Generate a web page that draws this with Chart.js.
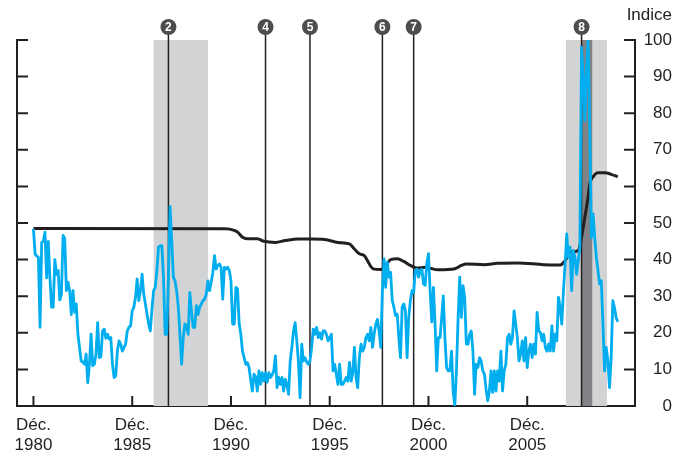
<!DOCTYPE html>
<html>
<head>
<meta charset="utf-8">
<script src="https://cdn.jsdelivr.net/npm/chart.js@4"></script>
<style>
  html, body { margin: 0; padding: 0; background: #fff; }
  #wrap { width: 689px; height: 462px; }
</style>
</head>
<body>
<div id="wrap"><canvas id="stressChart"></canvas></div>
<script>
// months counted from Dec. 1980 (0 = Déc. 1980)
const tickMonths = [0, 60, 120, 180, 240, 300];
const tickYears = ['1980', '1985', '1990', '1995', '2000', '2005'];

// blue series, one value per month from Déc. 1980
const blueIndex = [
  48.4, 41.5, 41, 40.6, 21.5, 44.7, 45, 47.5, 35, 45, 35, 27,
  27, 40, 36, 37, 29, 30.6, 46.6, 45.7, 31.5, 33.8, 31.5, 25,
  31.5, 25.6, 27.9, 19.6, 16, 12.3, 12, 11.4, 14.2, 6.4, 11.4, 19.6,
  11, 11.4, 14.2, 22.8, 13.2, 13.5, 20.5, 21, 18.5, 19.6, 18.3, 18.7,
  11.4, 7.8, 8.2, 15, 17.8, 16.9, 15, 16, 16.9, 20.5, 21.5, 21.9,
  26, 27, 29.7, 34.7, 28.8, 31.5, 36, 30.6, 27.9, 25.1, 22.4, 20.5,
  26.5, 31.5, 32.4, 37, 43.4, 43.8, 43.8, 35.2, 19.6, 19.6, 35, 54.5,
  45.2, 35.2, 34.2, 31.5, 27, 19.6, 11.4, 18.7, 22.4, 21.9, 19.6, 31,
  26, 21.5, 21.5, 27.4, 25, 27, 27.9, 28.8, 29.2, 30.6, 34.2, 31.5,
  33.8, 36.5, 41.1, 37.4, 38.4, 38.8, 37.9, 29.2, 37.9, 37.4, 37.9, 37,
  34.2, 22.4, 22.4, 32.4, 32, 22.4, 19.6, 15, 13.2, 11.4, 11.8, 10.5,
  7, 4.1, 8.7, 8, 4.1, 9.6, 5.9, 9.1, 6.8, 9.1, 6.5, 9.1,
  7.8, 8.5, 9.6, 13.7, 5, 7.8, 5.9, 7.8, 4.1, 7.3, 5.9, 3.2,
  12.3, 16, 20.5, 22.8, 17.8, 12, 2.3, 16.9, 12.3, 13.2, 12, 11.4,
  12.3, 15.9, 21, 19.6, 21.5, 18.7, 20, 18.3, 20.5, 20.5, 19.6, 17.8,
  18.7, 19.6, 9.6, 11.4, 8.7, 5.9, 11.4, 5.9, 5.9, 6.8, 7.8, 6.8,
  11.9, 6.8, 9.1, 16, 7.8, 5, 13.2, 16.9, 15, 16, 18.7, 19.6,
  17.8, 21.5, 16, 19.6, 22.4, 23.7, 20.5, 16, 31.5, 40.2, 32.4, 39.3,
  35.2, 36.5, 28.8, 27, 24.7, 25.1, 18.7, 13.2, 27, 27.9, 26, 13.2,
  24.2, 28.8, 31.5, 31, 37, 37.4, 35.2, 37, 37.4, 33.3, 33, 39,
  41.6, 31.5, 23, 32.4, 22.4, 9.6, 18.7, 18.7, 24, 30.1, 18.7, 10.5,
  9.6, 9.6, 15, 4, 0, 9.8, 24, 35.2, 24.2, 32.9, 29.7, 16.9,
  16.9, 19.6, 20.5, 15, 3.2, 11.4, 10.5, 13.2, 12.3, 9.6, 8.7, 4.6,
  1.4, 4.1, 9.6, 3.7, 9.6, 4.1, 9.6, 6.8, 15, 4.1, 9.6, 11.4,
  18.7, 19.6, 16.9, 18.7, 26, 22.4, 18.7, 12.3, 14.2, 17.8, 12.3, 18.7,
  10.5, 15, 16.9, 13.2, 16.9, 14.2, 25.6, 20.5, 20.1, 17.8, 19.6, 16,
  15, 16.9, 15, 21.9, 15, 19.6, 17.8, 29.7, 26.9, 22.4, 31.5, 38.8,
  47, 40.6, 43.4, 31.5, 42.5, 40.6, 36, 39.7, 43.4, 98, 90, 78,
  92, 100, 75, 46, 52.5, 46, 40.6, 37, 33.3, 34.2, 22.4, 9.6,
  16, 12.3, 5, 13.2, 28.8, 26.9, 24.2, 23
];

// black series, read at its turning points
const blackMonths = [0, 116, 122, 124, 127, 130, 136, 140, 147, 153, 161, 169, 177, 185, 192, 195, 198, 201, 203, 205, 207, 211, 214, 217, 221, 225, 229, 233, 238, 246, 256, 260, 263, 274, 282, 294, 310, 320, 323, 326, 331, 333, 335, 337, 338, 340, 343, 347, 351, 355];
const blackIndex = [48.5, 48.4, 48, 47.5, 46.1, 45.7, 45.7, 45, 44.7, 45.2, 45.6, 45.6, 45.5, 44.7, 44.3, 42.9, 41.6, 41.1, 39.7, 38.1, 37.4, 37.3, 38.4, 40, 40.2, 39.5, 38.4, 37.7, 37.9, 37.2, 37.5, 38.4, 38.8, 38.6, 39, 39.1, 38.6, 38.5, 39.7, 42, 42.5, 46.1, 51.6, 57.1, 60.7, 62.6, 63.7, 63.7, 63.3, 62.6];

// events and shaded periods
const eventLabels = ['2', '4', '5', '6', '7', '8'];
const eventMonths = [82, 141, 168, 212, 231, 333];
const shadeStart = [73, 323.5];
const shadeEnd = [106, 348.5];
const darkStart = [333];
const darkEnd = [339.5];

const INK = '#231f20';
Chart.defaults.font.family = '"Liberation Sans", Arial, sans-serif';
Chart.defaults.font.size = 17;
Chart.defaults.color = INK;

const decor = {
    id: 'decor',
    beforeDatasetsDraw(chart) {
        const { ctx, chartArea: a, scales: { x } } = chart;
        ctx.save();
        ctx.fillStyle = '#d1d3d4';
        shadeStart.forEach((s, i) => {
            const x1 = x.getPixelForValue(s), x2 = x.getPixelForValue(shadeEnd[i]);
            ctx.fillRect(x1, a.top, x2 - x1, a.bottom - a.top);
        });
        ctx.fillStyle = '#808285';
        darkStart.forEach((s, i) => {
            const x1 = x.getPixelForValue(s), x2 = x.getPixelForValue(darkEnd[i]);
            ctx.fillRect(x1, a.top, x2 - x1, a.bottom - a.top);
        });
        ctx.strokeStyle = INK;
        ctx.lineWidth = 1.5;
        eventMonths.forEach(m => {
            const px = x.getPixelForValue(m);
            ctx.beginPath();
            ctx.moveTo(px, 27);
            ctx.lineTo(px, a.bottom);
            ctx.stroke();
        });
        ctx.restore();
    },
    afterDraw(chart) {
        const { ctx, chartArea: a, scales: { x, y } } = chart;
        ctx.save();
        ctx.strokeStyle = INK;
        ctx.lineWidth = 2;
        // inward ticks
        for (let v = 10; v <= 100; v += 10) {
            const py = y.getPixelForValue(v);
            ctx.beginPath();
            ctx.moveTo(a.left, py); ctx.lineTo(a.left + 11, py);
            ctx.moveTo(a.right, py); ctx.lineTo(a.right - 11, py);
            ctx.stroke();
        }
        tickMonths.forEach(m => {
            const px = x.getPixelForValue(m);
            ctx.beginPath();
            ctx.moveTo(px, a.bottom); ctx.lineTo(px, a.bottom - 10);
            ctx.stroke();
        });
        // event markers
        eventMonths.forEach((m, i) => {
            const px = x.getPixelForValue(m);
            ctx.beginPath();
            ctx.arc(px, 27, 8, 0, Math.PI * 2);
            ctx.fillStyle = '#4d4d4f';
            ctx.fill();
            ctx.fillStyle = '#fff';
            ctx.font = 'bold 12px "Liberation Sans", Arial, sans-serif';
            ctx.textAlign = 'center';
            ctx.textBaseline = 'middle';
            ctx.fillText(eventLabels[i], px, 27.5);
        });
        ctx.fillStyle = INK;
        ctx.font = '17px "Liberation Sans", Arial, sans-serif';
        ctx.textAlign = 'right';
        ctx.textBaseline = 'alphabetic';
        ctx.fillText('Indice', 672, 20);
        ctx.restore();
    }
};

const ctx = document.getElementById('stressChart').getContext('2d');
window.stressChart = new Chart(ctx, {
    type: 'line',
    data: {
        datasets: [{
            data: blackMonths.map((m, i) => ({ x: m, y: blackIndex[i] })),
            borderColor: INK,
            borderWidth: 3,
            pointRadius: 0,
            cubicInterpolationMode: 'monotone',
            yAxisID: 'y',
            order: 2
        }, {
            data: blueIndex.map((v, i) => ({ x: i, y: v })),
            borderColor: '#00aeef',
            borderWidth: 2.8,
            pointRadius: 0,
            tension: 0,
            borderJoinStyle: 'round',
            yAxisID: 'y',
            order: 1
        }]
    },
    options: {
        responsive: true,
        maintainAspectRatio: false,
        animation: false,
        layout: { padding: { left: 17, right: 17, top: 40, bottom: 0 } },
        plugins: { legend: { display: false }, tooltip: { enabled: false } },
        scales: {
            x: {
                type: 'linear',
                min: -10,
                max: 365.5,
                afterBuildTicks: axis => { axis.ticks = tickMonths.map(v => ({ value: v })); },
                afterFit: axis => { axis.height = 56; },
                grid: { display: false, drawTicks: false },
                border: { display: true, color: INK, width: 2 },
                ticks: {
                    padding: 9,
                    maxRotation: 0,
                    autoSkip: false,
                    callback: v => ['Déc.', tickYears[tickMonths.indexOf(v)]]
                }
            },
            yLeft: {
                position: 'left',
                min: 0,
                max: 100,
                grid: { display: false, drawTicks: false },
                border: { display: true, color: INK, width: 2 },
                ticks: { display: false }
            },
            y: {
                position: 'right',
                min: 0,
                max: 100,
                grid: { display: false, drawTicks: false },
                border: { display: true, color: INK, width: 2 },
                ticks: { stepSize: 10, padding: 4.3, crossAlign: 'far' }
            }
        }
    },
    plugins: [decor]
});
</script>
</body>
</html>
